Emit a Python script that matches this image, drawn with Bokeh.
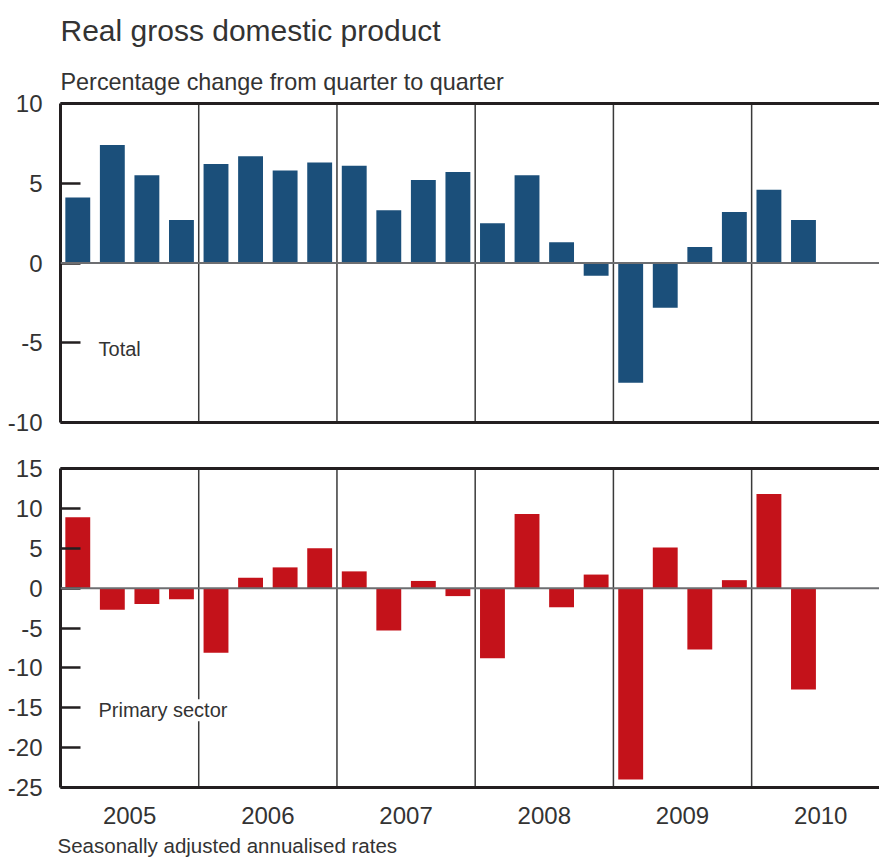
from bokeh.plotting import figure
from bokeh.layouts import column
from bokeh.models import Range1d, FixedTicker, LinearAxis, Span, Label, Title
from bokeh.embed import file_html
from bokeh.resources import INLINE

# ---- data ----
years = ["2005", "2006", "2007", "2008", "2009", "2010"]
total = [4.1, 7.4, 5.5, 2.7,
         6.2, 6.7, 5.8, 6.3,
         6.1, 3.3, 5.2, 5.7,
         2.5, 5.5, 1.3, -0.8,
         -7.5, -2.8, 1.0, 3.2,
         4.6, 2.7]
primary = [8.9, -2.7, -2.0, -1.4,
           -8.1, 1.3, 2.6, 5.0,
           2.1, -5.3, 0.9, -1.0,
           -8.8, 9.3, -2.4, 1.7,
           -24.0, 5.1, -7.7, 1.0,
           11.8, -12.7]
top_ticks = [-10, -5, 0, 5, 10]
bottom_ticks = [-25, -20, -15, -10, -5, 0, 5, 10, 15]

FONT = "Liberation Sans"
TXT = "#333333"
BLUE = "#1b4f7a"
RED = "#c4121a"
FRAME = "#231f20"

W = 879
X_END = 23.7


def make_panel(values, color, yticks, height, border_top, border_bottom, label_text, label_y):
    p = figure(width=W, height=height, output_backend="svg", toolbar_location=None,
               x_range=Range1d(0, X_END), y_range=Range1d(yticks[0], yticks[-1]),
               min_border_left=60, min_border_right=0,
               min_border_top=border_top, min_border_bottom=border_bottom,
               x_axis_location=None, y_axis_location=None)
    p.outline_line_color = None
    p.xgrid.visible = False
    p.ygrid.visible = False
    p.background_fill_color = "white"

    # year separators
    for k in range(1, len(years)):
        p.add_layout(Span(location=4 * k, dimension="height", line_color="#3a3a3a",
                          line_width=1.5, level="underlay"))

    xs = [i + 0.5 for i in range(len(values))]
    p.vbar(x=xs, top=values, bottom=0, width=0.72, fill_color=color, line_color=None)

    p.add_layout(Span(location=0, dimension="width", line_color="#6d6e71", line_width=2))

    yax = LinearAxis(ticker=FixedTicker(ticks=yticks))
    yax.major_label_overrides = {t: str(t) for t in yticks}
    yax.axis_line_width = 3
    yax.axis_line_color = FRAME
    yax.major_tick_in = 20
    yax.major_tick_out = 0
    yax.major_tick_line_width = 2.5
    yax.major_tick_line_color = FRAME
    yax.minor_tick_line_color = None
    yax.major_label_standoff = 18
    yax.major_label_text_font = FONT
    yax.major_label_text_font_size = "24px"
    yax.major_label_text_color = TXT
    p.add_layout(yax, "left")

    tax = LinearAxis(ticker=FixedTicker(ticks=[]))
    tax.axis_line_width = 3
    tax.axis_line_color = FRAME
    tax.major_tick_line_color = None
    tax.minor_tick_line_color = None
    tax.major_label_text_font_size = "0px"
    p.add_layout(tax, "above")

    p.add_layout(Label(x=1.1, y=label_y, text=label_text, text_font=FONT,
                       text_font_size="20px", text_color=TXT, text_baseline="middle",
                       background_fill_color="white"))
    return p


top = make_panel(total, BLUE, top_ticks, 442, 103, 20, "Total", -5.4)
bax = LinearAxis(ticker=FixedTicker(ticks=[]))
bax.axis_line_width = 3
bax.axis_line_color = FRAME
bax.major_tick_line_color = None
bax.minor_tick_line_color = None
bax.major_label_text_font_size = "0px"
top.add_layout(bax, "below")

top.add_layout(Title(text="Percentage change from quarter to quarter", text_font=FONT,
                     text_font_size="23.4px", text_color=TXT, text_font_style="normal",
                     align="left", standoff=17), "above")
top.add_layout(Title(text="Real gross domestic product", text_font=FONT,
                     text_font_size="30px", text_color=TXT, text_font_style="normal",
                     align="left", standoff=23), "above")

bottom = make_panel(primary, RED, bottom_ticks, 420, 26, 75, "Primary sector", -15.3)
xax = LinearAxis(ticker=FixedTicker(ticks=[4 * k + 2 for k in range(len(years))]))
xax.major_label_overrides = {4 * k + 2: y for k, y in enumerate(years)}
xax.axis_line_width = 3
xax.axis_line_color = FRAME
xax.major_tick_line_color = None
xax.minor_tick_line_color = None
xax.major_label_standoff = 13
xax.major_label_text_font = FONT
xax.major_label_text_font_size = "24px"
xax.major_label_text_color = TXT
bottom.add_layout(xax, "below")

bottom.add_layout(Title(text="Seasonally adjusted annualised rates", text_font=FONT,
                        text_font_size="20.5px", text_color=TXT, text_font_style="normal",
                        align="left", offset=-3, standoff=10), "below")

layout = column(top, bottom, spacing=0)
open("out.html", "w").write(file_html(layout, INLINE))
